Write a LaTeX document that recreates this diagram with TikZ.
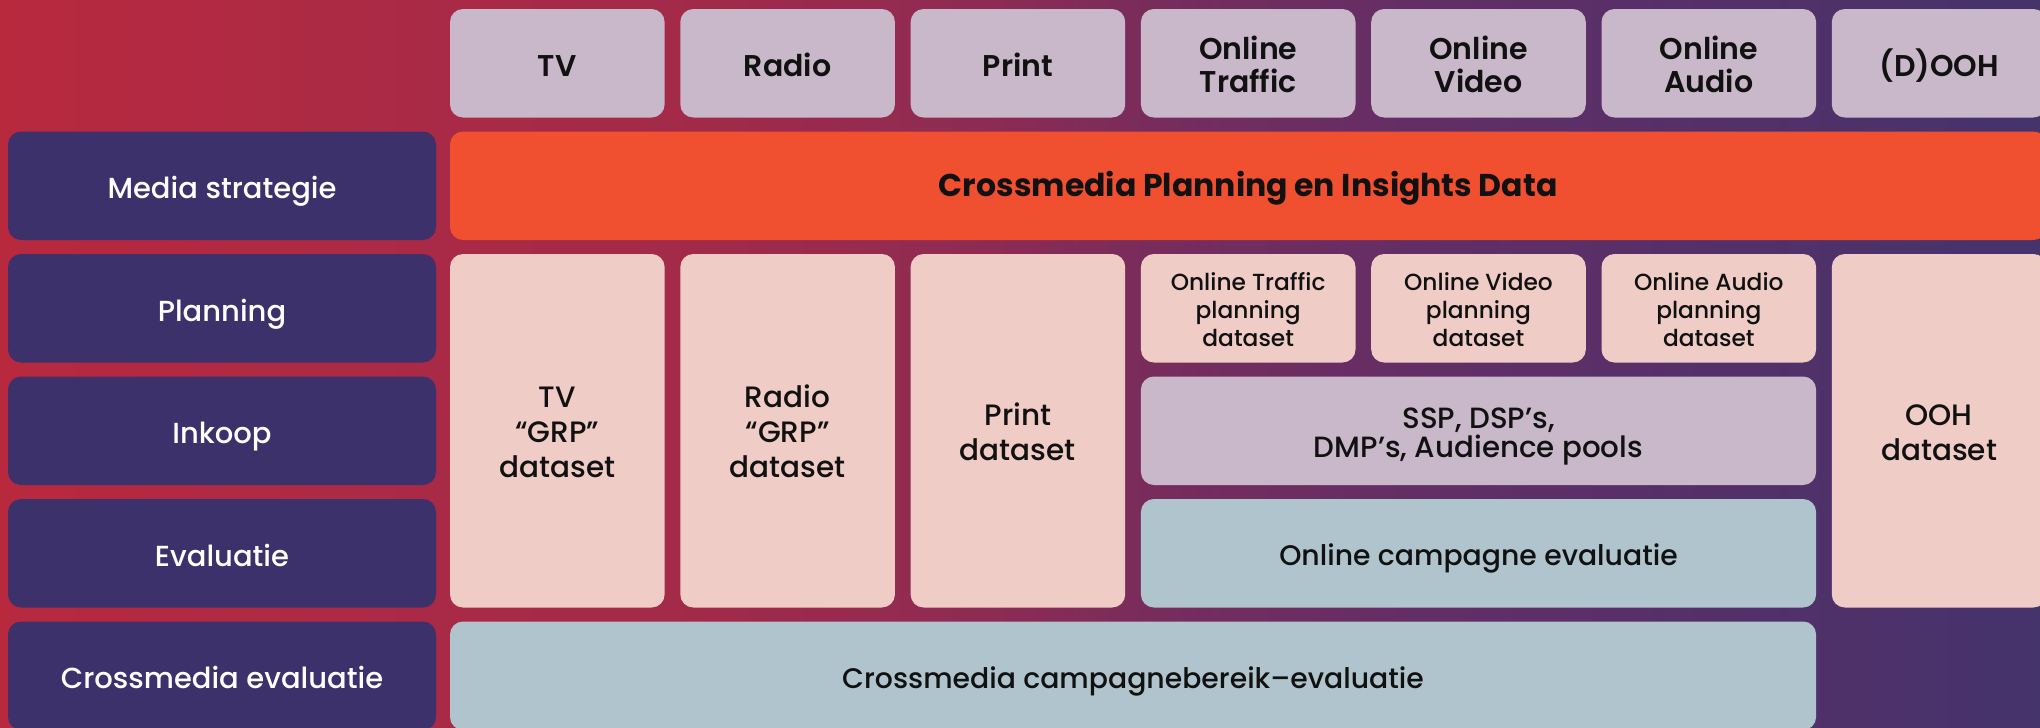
\documentclass[tikz,border=0pt]{standalone}
\usepackage{fontspec}
\setmainfont{Poppins}
\newfontfamily\medfont{Poppins Medium}
\newfontfamily\semifont{Poppins SemiBold}
\newfontfamily\heavyfont{Poppins Bold}

\definecolor{bgA}{HTML}{B8293E}
\definecolor{bgB}{HTML}{A92A46}
\definecolor{bgC}{HTML}{A22A49}
\definecolor{bgD}{HTML}{8C2B54}
\definecolor{bgE}{HTML}{782C5C}
\definecolor{bgF}{HTML}{642E65}
\definecolor{bgG}{HTML}{5A2F68}
\definecolor{bgH}{HTML}{4E3169}
\definecolor{bgI}{HTML}{45336C}
\definecolor{navy}{HTML}{3D316B}
\definecolor{lav}{HTML}{C9B8CA}
\definecolor{flame}{HTML}{F15030}
\definecolor{blush}{HTML}{F0CCC6}
\definecolor{steel}{HTML}{AFC4CC}
\definecolor{ink}{HTML}{111111}

% left-to-right backdrop; the path maps onto 25bp..75bp of the shading
\pgfdeclarehorizontalshading{backdrop}{100bp}{
  color(0bp)=(bgA); color(25bp)=(bgA); color(35.78bp)=(bgB);
  color(42.16bp)=(bgC); color(49.51bp)=(bgD); color(53.19bp)=(bgE);
  color(59.31bp)=(bgF); color(64.22bp)=(bgG); color(70.34bp)=(bgH);
  color(75bp)=(bgI); color(100bp)=(bgI)}

\tikzset{
  cell/.style={rectangle, rounded corners=13pt, inner sep=0pt, align=center, text=ink, text depth=0pt},
  % text height = room above the last baseline, so the lines sit a little low like the layout wants
  tx/.style={text height=#1},
  media/.style={cell, fill=lav, font=\semifont\fontsize{30}{33}\selectfont},
  phase/.style={cell, fill=navy, text=white, tx=26pt, font=\medfont\fontsize{29}{35}\selectfont},
  strategy/.style={cell, fill=flame, tx=21pt, font=\heavyfont\fontsize{31.5}{34}\selectfont},
  dataset/.style={cell, fill=blush, font=\medfont\fontsize{29.5}{35}\selectfont},
  smallset/.style={cell, fill=blush, tx=77pt, font=\medfont\fontsize{23.3}{28}\selectfont},
  tools/.style={cell, fill=lav, tx=53pt, font=\medfont\fontsize{29.3}{29}\selectfont},
  review/.style={cell, fill=steel, tx=25pt, font=\medfont\fontsize{28.3}{35}\selectfont},
  colw/.style={minimum width=214.6pt},
  rowh/.style={minimum height=108.5pt},
}

\begin{document}
\begin{tikzpicture}[x=1pt, y=-1pt]
  \useasboundingbox (0,0) rectangle (2040,728);
  \fill[shading=backdrop] (0,0) rectangle (2040,728);

  % media channels
  \node[media, tx=25.5pt, colw, rowh] (tv)    at (557.3,63.25)  {TV};
  \node[media, tx=25.5pt, colw, rowh] (radio) at (787.6,63.25)  {Radio};
  \node[media, tx=25.5pt, colw, rowh] (print) at (1017.9,63.25) {Print};
  \node[media, tx=59pt, colw, rowh] (otr)   at (1248.2,63.25) {Online\\Traffic};
  \node[media, tx=59pt, colw, rowh] (ovid)  at (1478.5,63.25) {Online\\Video};
  \node[media, tx=59pt, colw, rowh] (oaud)  at (1708.8,63.25) {Online\\Audio};
  \node[media, tx=25.5pt, colw, rowh] (dooh)  at (1939.1,63.25) {(D)OOH};

  % phases
  \node[phase, minimum width=428pt, rowh] (strat) at (222,185.75) {Media strategie};
  \node[phase, minimum width=428pt, rowh] (plan)  at (222,308.25) {Planning};
  \node[phase, minimum width=428pt, rowh] (buy)   at (222,430.75) {Inkoop};
  \node[phase, minimum width=428pt, rowh] (eval)  at (222,553.25) {Evaluatie};
  \node[phase, minimum width=428pt, rowh] (xeval) at (222,675.75) {Crossmedia evaluatie};

  % strategy band
  \node[strategy, minimum width=1596.4pt, rowh] (cpi) at (1248.2,185.75) {Crossmedia Planning en Insights Data};

  % datasets spanning planning to evaluation
  \node[dataset, tx=94pt, colw, minimum height=353.5pt] (tvset)    at (557.3,430.75)  {TV\\“GRP”\\dataset};
  \node[dataset, tx=94pt, colw, minimum height=353.5pt] (radioset) at (787.6,430.75)  {Radio\\“GRP”\\dataset};
  \node[dataset, tx=60pt, colw, minimum height=353.5pt] (printset) at (1017.9,430.75) {Print\\dataset};
  \node[dataset, tx=60pt, colw, minimum height=353.5pt] (oohset)   at (1939.1,430.75) {OOH\\dataset};

  % online planning datasets
  \node[smallset, colw, rowh] (otrset)  at (1248.2,308.25) {Online Traffic\\planning\\dataset};
  \node[smallset, colw, rowh] (ovidset) at (1478.5,308.25) {Online Video\\planning\\dataset};
  \node[smallset, colw, rowh] (oaudset) at (1708.8,308.25) {Online Audio\\planning\\dataset};

  % online buying and evaluation
  \node[tools, minimum width=675.2pt, rowh] (ssp)   at (1478.5,430.75) {SSP, DSP’s,\\DMP’s, Audience pools};
  \node[review, minimum width=675.2pt, rowh] (oeval) at (1478.5,553.25) {Online campagne evaluatie};

  % crossmedia reach evaluation
  \node[review, minimum width=1366.1pt, rowh] (reach) at (1133.05,675.75) {Crossmedia campagnebereik–evaluatie};
\end{tikzpicture}
\end{document}
